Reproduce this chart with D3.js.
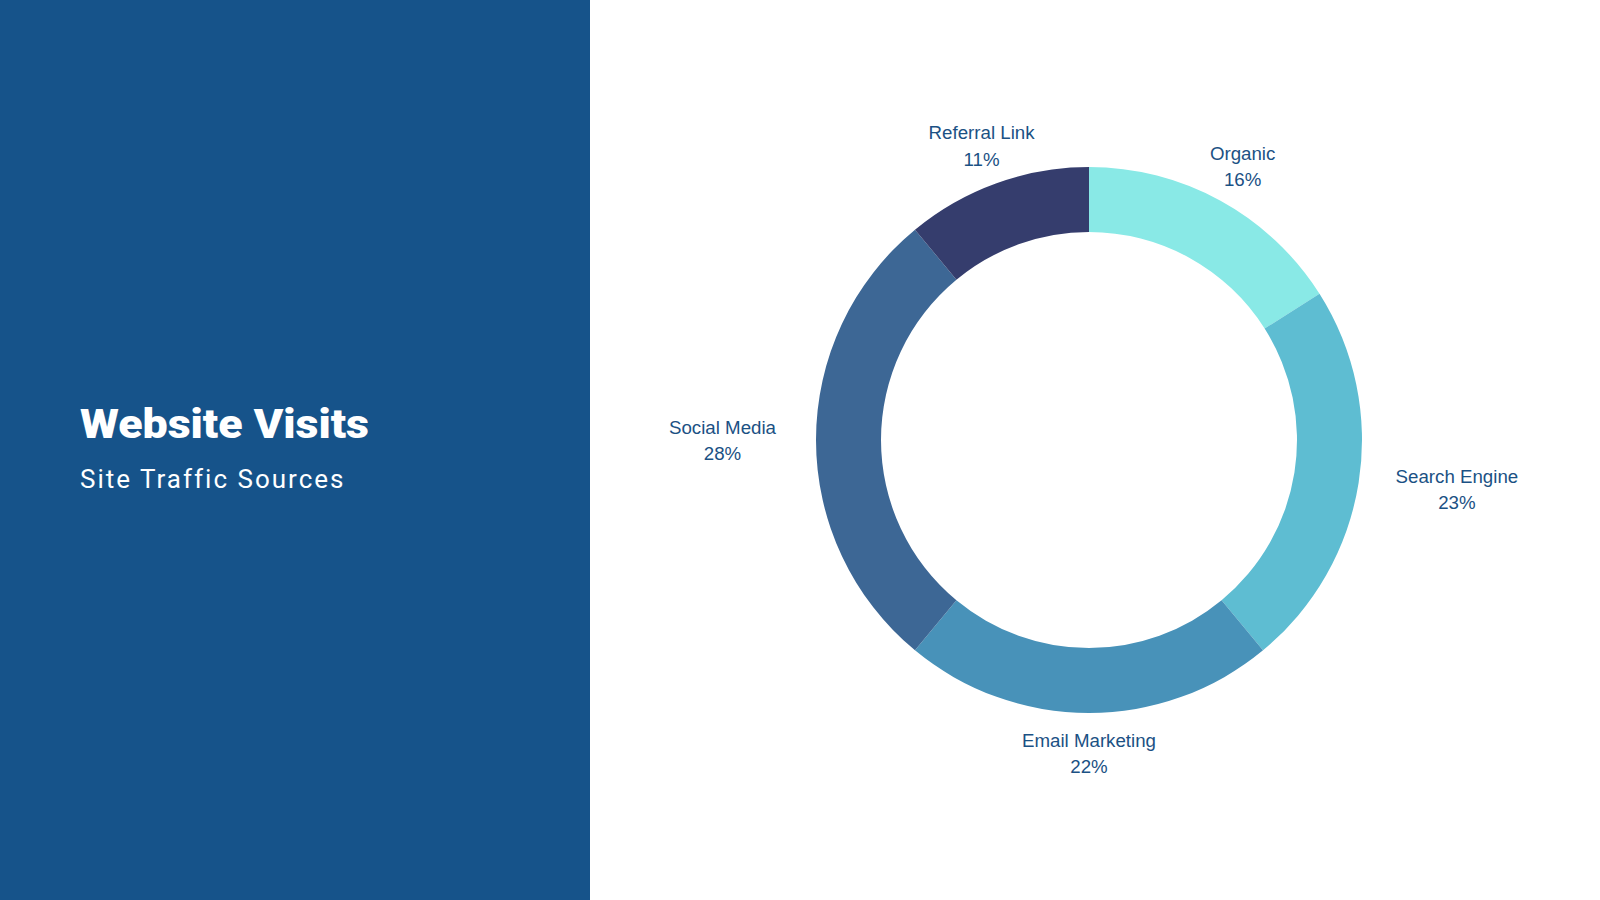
<!DOCTYPE html>
<html>
<head>
<meta charset="utf-8">
<script src="https://cdn.jsdelivr.net/npm/d3@7"></script>
<style>
  html, body { margin: 0; padding: 0; background: #fff; }
  #chart { width: 1600px; height: 900px; }
</style>
</head>
<body>
<div id="chart"></div>
<script>
const categories = ["Organic", "Search Engine", "Email Marketing", "Social Media", "Referral Link"];
const values = [16, 23, 22, 28, 11];
const colors = ["#89e9e6", "#5ebdd2", "#4892b9", "#3d6795", "#353d6d"];

const title = "Website Visits";
const subtitle = "Site Traffic Sources";

const width = 1600,
  height = 900,
  panelWidth = 590,
  cx = 1089,
  cy = 440,
  outerR = 273,
  innerR = 208,
  labelR = 313;

const svg = d3
  .select("#chart")
  .append("svg")
  .attr("width", width)
  .attr("height", height);

// left panel
svg
  .append("rect")
  .attr("width", panelWidth)
  .attr("height", height)
  .attr("fill", "#16538a");

svg
  .append("text")
  .attr("x", 80)
  .attr("y", 438)
  .attr("font-family", "Roboto, sans-serif")
  .attr("font-weight", 900)
  .attr("font-size", "40px")
  .attr("textLength", 289)
  .attr("lengthAdjust", "spacingAndGlyphs")
  .attr("fill", "#ffffff")
  .text(title);

svg
  .append("text")
  .attr("x", 80)
  .attr("y", 488)
  .attr("font-family", "Roboto, sans-serif")
  .attr("font-weight", 400)
  .attr("font-size", "26px")
  .attr("letter-spacing", "2px")
  .attr("fill", "#ffffff")
  .text(subtitle);

// donut
const data = categories.map((c, i) => ({ name: c, value: values[i], color: colors[i] }));
const pie = d3.pie().value((d) => d.value).sort(null);
const arc = d3.arc().innerRadius(innerR).outerRadius(outerR);
const arcs = pie(data);

const g = svg.append("g").attr("transform", `translate(${cx}, ${cy})`);

g.selectAll("path")
  .data(arcs)
  .enter()
  .append("path")
  .attr("d", arc)
  .attr("fill", (d) => d.data.color);

// labels
const labels = g
  .selectAll(".label")
  .data(arcs)
  .enter()
  .append("text")
  .attr("class", "label")
  .attr("text-anchor", "middle")
  .attr("font-family", "'Liberation Sans', Arial, sans-serif")
  .attr("font-size", "18.7px")
  .attr("fill", "#1b5184");

labels
  .append("tspan")
  .attr("class", "name")
  .attr("x", 0)
  .attr("dy", "-0.05em")
  .text((d) => d.data.name);

labels
  .append("tspan")
  .attr("class", "pct")
  .attr("x", 0)
  .attr("dy", 26.5)
  .text((d) => d.data.value + "%");

labels.each(function (d) {
  const a = (d.startAngle + d.endAngle) / 2;
  const node = d3.select(this);
  let w = 0;
  node.selectAll("tspan").each(function () {
    w = Math.max(w, this.getComputedTextLength());
  });
  const s = Math.sin(a);
  const x = s * labelR + Math.pow(s, 3) * (w / 2) - 2 * s * Math.abs(Math.cos(a)) ;
  const y = -Math.cos(a) * labelR;
  node.selectAll("tspan").attr("x", x);
  node.attr("transform", `translate(0, ${y - 13.25 + 8})`);
});
</script>
</body>
</html>
